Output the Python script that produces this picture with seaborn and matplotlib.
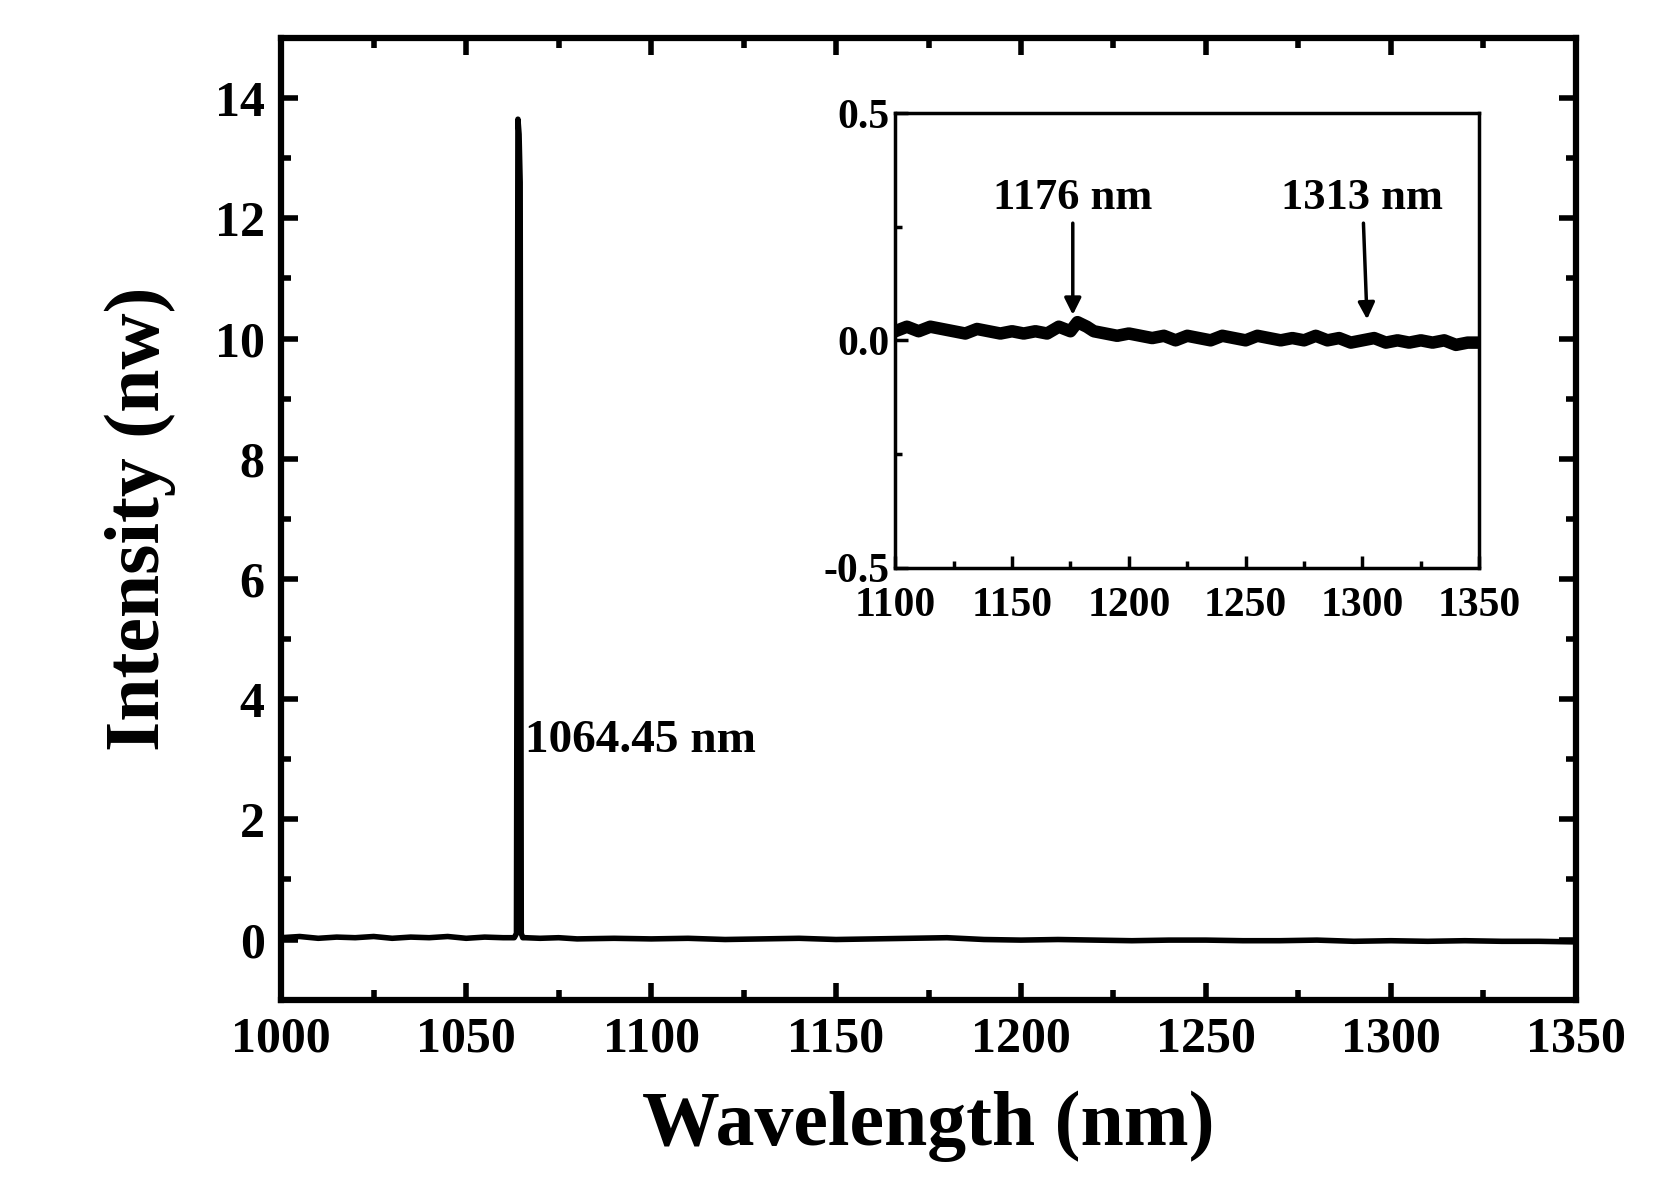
import matplotlib
matplotlib.use("Agg")
import matplotlib.pyplot as plt
import seaborn as sns
import pandas as pd
from matplotlib.ticker import MultipleLocator

plt.rcParams["font.family"] = "Liberation Serif"
plt.rcParams["font.weight"] = "bold"
plt.rcParams["axes.unicode_minus"] = False

# main spectrum
main_x = [1000, 1005, 1010, 1015, 1020, 1025, 1030, 1035, 1040, 1045, 1050, 1055, 1060, 1063,
          1063.6, 1064.0, 1064.3, 1064.6, 1064.9, 1065.3, 1066, 1070, 1075, 1080, 1090, 1100,
          1110, 1120, 1130, 1140, 1150, 1160, 1170, 1180, 1190, 1200, 1210, 1220, 1230, 1240,
          1250, 1260, 1270, 1280, 1290, 1300, 1310, 1320, 1330, 1340, 1350]
main_y = [0.03, 0.05, 0.02, 0.04, 0.03, 0.05, 0.02, 0.04, 0.03, 0.05, 0.02, 0.04, 0.03, 0.03,
          0.1, 13.65, 13.4, 12.6, 0.1, 0.03, 0.03, 0.02, 0.03, 0.01, 0.02, 0.01,
          0.02, 0.0, 0.01, 0.02, 0.0, 0.01, 0.02, 0.03, 0.0, -0.01, 0.0, -0.01, -0.02, -0.01,
          -0.01, -0.02, -0.02, -0.01, -0.03, -0.02, -0.03, -0.02, -0.03, -0.03, -0.04]

# inset spectrum
inset_x = [1100, 1105, 1110, 1115, 1120, 1125, 1130, 1135, 1140, 1145, 1150, 1155, 1160, 1165,
           1170, 1175, 1178, 1182, 1185, 1190, 1195, 1200, 1205, 1210, 1215, 1220, 1225, 1230,
           1235, 1240, 1245, 1250, 1255, 1260, 1265, 1270, 1275, 1280, 1285, 1290, 1295, 1300,
           1305, 1310, 1315, 1320, 1325, 1330, 1335, 1340, 1345, 1350]
inset_y = [0.02, 0.03, 0.02, 0.03, 0.025, 0.02, 0.015, 0.025, 0.02, 0.015, 0.02, 0.015, 0.02, 0.015,
           0.03, 0.02, 0.04, 0.03, 0.02, 0.015, 0.01, 0.015, 0.01, 0.005, 0.01, 0.0, 0.01, 0.005,
           0.0, 0.01, 0.005, 0.0, 0.01, 0.005, 0.0, 0.005, 0.0, 0.01, 0.0, 0.005, -0.005, 0.0,
           0.005, -0.005, 0.0, -0.005, 0.0, -0.005, 0.0, -0.01, -0.005, -0.005]

fig = plt.figure(figsize=(16.64, 11.9), dpi=100)
ax = fig.add_axes([0.169, 0.160, 0.778, 0.808])
sns.lineplot(data=pd.DataFrame({"x": main_x, "y": main_y}), x="x", y="y", ax=ax,
             color="black", linewidth=4, estimator=None, sort=False)
ax.set_xlim(1000, 1350)
ax.set_ylim(-1, 15)
ax.xaxis.set_major_locator(MultipleLocator(50))
ax.xaxis.set_minor_locator(MultipleLocator(25))
ax.set_yticks(list(range(0, 15, 2)))
ax.yaxis.set_minor_locator(MultipleLocator(1))
ax.tick_params(which="both", direction="in", top=True, right=True, width=4)
ax.tick_params(which="major", length=12, labelsize=36, pad=12)
ax.tick_params(which="minor", length=7)
for s in ax.spines.values():
    s.set_linewidth(4.5)
ax.set_xlabel("Wavelength (nm)", fontsize=56, fontweight="bold", labelpad=20)
ax.set_ylabel("Intensity (nw)", fontsize=56, fontweight="bold", labelpad=28)
ax.text(1066, 3.3, "1064.45 nm", fontsize=34, fontweight="bold", va="center")

ins = fig.add_axes([0.538, 0.523, 0.351, 0.382])
sns.lineplot(data=pd.DataFrame({"x": inset_x, "y": inset_y}), x="x", y="y", ax=ins,
             color="black", linewidth=9, estimator=None, sort=False)
ins.set_xlim(1100, 1350)
ins.set_ylim(-0.5, 0.5)
ins.xaxis.set_major_locator(MultipleLocator(50))
ins.xaxis.set_minor_locator(MultipleLocator(25))
ins.set_yticks([-0.5, 0.0, 0.5])
ins.yaxis.set_minor_locator(MultipleLocator(0.25))
ins.tick_params(which="both", direction="in", width=2.5)
ins.tick_params(which="major", length=9, labelsize=30)
ins.tick_params(axis="x", which="major", pad=14)
ins.tick_params(axis="y", which="major", pad=4)
ins.tick_params(which="minor", length=5)
for s in ins.spines.values():
    s.set_linewidth(2.5)
ins.set_xlabel("")
ins.set_ylabel("")
ins.annotate("1176 nm", xy=(1176, 0.05), xytext=(1176, 0.27), fontsize=32, fontweight="bold",
             ha="center", va="bottom",
             arrowprops=dict(arrowstyle="-|>", color="black", lw=2.5, mutation_scale=25))
ins.annotate("1313 nm", xy=(1302, 0.04), xytext=(1300, 0.27), fontsize=32, fontweight="bold",
             ha="center", va="bottom",
             arrowprops=dict(arrowstyle="-|>", color="black", lw=2.5, mutation_scale=25))

fig.savefig("out.png", dpi=100)
